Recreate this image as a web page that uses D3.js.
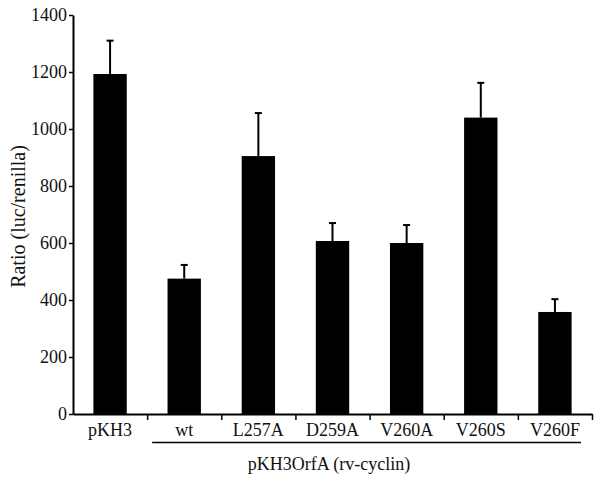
<!DOCTYPE html>
<html>
<head>
<meta charset="utf-8">
<script src="https://d3js.org/d3.v7.min.js"></script>
<style>
  body { margin: 0; background: #fff; }
  svg text { font-family: "Liberation Serif", "Times New Roman", serif; fill: #111; }
</style>
</head>
<body>
<svg id="chart" width="601" height="479"></svg>
<script>
const width = 601;
const height = 479;

// values
const categories = ["pKH3", "wt", "L257A", "D259A", "V260A", "V260S", "V260F"];
const means = [1193, 475, 905, 607, 600, 1040, 358];
const errTops = [1310, 523, 1056, 670, 663, 1162, 403];
const yTicks = [0, 200, 400, 600, 800, 1000, 1200, 1400];
const groupLabel = "pKH3OrfA (rv-cyclin)";

const margin = { top: 15, left: 73, right: 9, bottom: 65 };

const svg = d3.select("svg#chart");

/* SCALES */
const x = d3.scaleBand()
  .domain(categories)
  .range([margin.left, width - margin.right])
  .paddingInner(0.55)
  .paddingOuter(0.275);

const y = d3.scaleLinear()
  .domain([0, 1400])
  .range([height - margin.bottom, margin.top]);

// boundaries between categories, for the x tick marks
const xEdge = d3.scaleLinear()
  .domain([0, categories.length])
  .range(x.range());

/* BARS */
svg.append("g").selectAll("rect")
  .data(categories)
  .enter()
  .append("rect")
  .attr("x", d => x(d))
  .attr("y", (d, i) => y(means[i]))
  .attr("width", x.bandwidth())
  .attr("height", (d, i) => y(0) - y(means[i]))
  .attr("fill", "#000");

/* ERROR BARS */
const err = svg.append("g").attr("stroke", "#000").attr("stroke-width", 2);
categories.forEach(function(c, i) {
  const cx = x(c) + x.bandwidth() / 2;
  err.append("line")
    .attr("x1", cx).attr("x2", cx)
    .attr("y1", y(means[i])).attr("y2", y(errTops[i]));
  err.append("line")
    .attr("x1", cx - 3.5).attr("x2", cx + 3.5)
    .attr("y1", y(errTops[i])).attr("y2", y(errTops[i]));
});

/* AXES */
const yAxis = d3.axisLeft(y)
  .tickValues(yTicks)
  .tickFormat(d3.format("d"))
  .tickSize(4)
  .tickSizeOuter(0)
  .tickPadding(2);

const yGroup = svg.append("g")
  .attr("transform", translate(margin.left, 0))
  .call(yAxis);

const xAxis = d3.axisBottom(xEdge)
  .tickValues(d3.range(1, categories.length + 1))
  .tickFormat("")
  .tickSize(6)
  .tickSizeOuter(0);

const xGroup = svg.append("g")
  .attr("transform", translate(0, y(0)))
  .call(xAxis);

[yGroup, xGroup].forEach(function(g) {
  g.select(".domain").attr("stroke", "#000").attr("stroke-width", 2);
  g.selectAll(".tick line").attr("stroke", "#000").attr("stroke-width", 1.5);
});
yGroup.selectAll(".tick text")
  .attr("font-size", 18)
  .attr("fill", "#111");

/* CATEGORY LABELS */
svg.append("g").selectAll("text")
  .data(categories)
  .enter()
  .append("text")
  .attr("x", d => x(d) + x.bandwidth() / 2)
  .attr("y", 436)
  .attr("text-anchor", "middle")
  .attr("font-size", 18)
  .text(d => d);

/* GROUP BRACKET */
svg.append("line")
  .attr("x1", xEdge(1) + 5)
  .attr("x2", xEdge(categories.length) - 11)
  .attr("y1", 442.5).attr("y2", 442.5)
  .attr("stroke", "#000")
  .attr("stroke-width", 1.5);

svg.append("text")
  .attr("x", 329)
  .attr("y", 470)
  .attr("text-anchor", "middle")
  .attr("font-size", 18)
  .text(groupLabel);

/* Y TITLE */
svg.append("text")
  .attr("transform", translate(25, (y(0) + y(1400)) / 2 + 2) + " rotate(-90)")
  .attr("text-anchor", "middle")
  .attr("font-size", 20)
  .text("Ratio (luc/renilla)");

function translate(a, b) {
  return "translate(" + String(a) + "," + String(b) + ")";
}
</script>
</body>
</html>
